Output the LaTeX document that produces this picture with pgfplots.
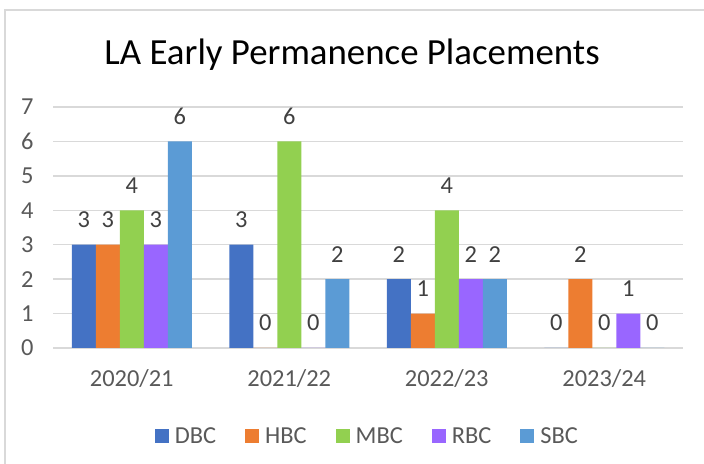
\documentclass[border=0pt]{standalone}
\usepackage{pgfplots}
\pgfplotsset{compat=1.18}
\usepackage{fontspec}
\setmainfont{Carlito}
\definecolor{cDBC}{HTML}{4472C4}
\definecolor{cHBC}{HTML}{ED7D31}
\definecolor{cMBC}{HTML}{92D050}
\definecolor{cRBC}{HTML}{9966FF}
\definecolor{cSBC}{HTML}{5B9BD5}
\definecolor{txt}{HTML}{595959}
\definecolor{lbl}{HTML}{404040}
\definecolor{gridc}{HTML}{D9D9D9}
\newcommand\lf{\fontsize{24.5}{29}\selectfont}
\begin{document}
\begin{tikzpicture}[x=1bp,y=1bp]
\useasboundingbox (0,0) rectangle (704,464);
\draw[gridc,line width=1.5bp] (5,0) -- (5,454) -- (704,454);
\node[anchor=base,font=\fontsize{37}{44}\selectfont,text=black] at (352,399) {LA Early Permanence Placements};
\begin{axis}[
  at={(53bp,116bp)}, anchor=south west,
  scale only axis, width=630bp, height=241bp,
  ybar=0pt, bar width=24bp,
  xmin=-0.5, xmax=3.5, ymin=0, ymax=7,
  xtick=data, xticklabels={2020/21,2021/22,2022/23,2023/24},
  ytick={0,1,2,3,4,5,6,7},
  major tick length=0pt,
  axis line style={draw=none},
  ymajorgrids, xmajorgrids=false,
  grid style={draw=gridc,line width=1.5bp},
  /pgf/number format/assume math mode=true,
  ticklabel style={font=\lf,text=txt},
  yticklabel style={anchor=east,xshift=-16bp},
  xticklabel style={anchor=center,yshift=-31bp},
  nodes near coords,
  nodes near coords style={font=\lf,text=lbl,anchor=center,yshift=25bp},
  legend columns=5,
  legend style={at={(0.499,-0.365)},anchor=center,draw=none,fill=none,
    font=\lf,text=txt,
    /tikz/every odd column/.append style={column sep=4bp},
    /tikz/every even column/.append style={column sep=27bp}},
  legend image code/.code={\fill[#1] (0bp,-7bp) rectangle (14bp,7bp);},
  clip=false,
]
\addplot[fill=cDBC,draw=none] coordinates {(0,3) (1,3) (2,2) (3,0)};
\addplot[fill=cHBC,draw=none] coordinates {(0,3) (1,0) (2,1) (3,2)};
\addplot[fill=cMBC,draw=none] coordinates {(0,4) (1,6) (2,4) (3,0)};
\addplot[fill=cRBC,draw=none] coordinates {(0,3) (1,0) (2,2) (3,1)};
\addplot[fill=cSBC,draw=none] coordinates {(0,6) (1,2) (2,2) (3,0)};
\legend{{\lf DBC},{\lf HBC},{\lf MBC},{\lf RBC},{\lf SBC}}
\end{axis}
\end{tikzpicture}
\end{document}
